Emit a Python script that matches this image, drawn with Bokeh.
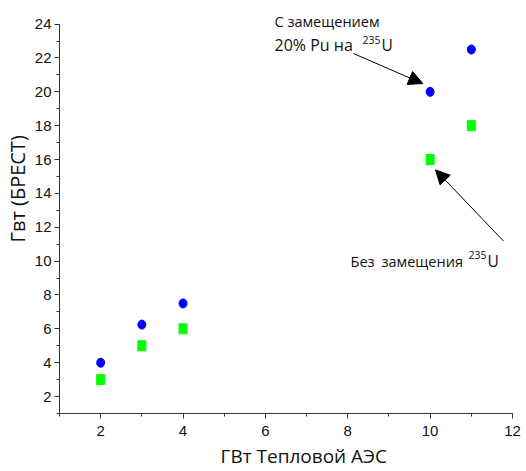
from bokeh.plotting import figure
from bokeh.models import Range1d, SingleIntervalTicker, Arrow, NormalHead, ColumnDataSource, Label, Title
from bokeh.embed import file_html
from bokeh.resources import INLINE

# Data
aes_gw = [2, 3, 4, 10, 11]
brest_with_sub = [4, 6.25, 7.5, 20, 22.5]      # blue circles: с замещением 20% Pu на 235U
brest_without_sub = [3, 5, 6, 16, 18]           # green squares: без замещения 235U

x_title = "ГВт Тепловой АЭС"
y_title = "Гвт (БРЕСТ)"

p = figure(width=526, height=471, output_backend="svg", toolbar_location=None,
           x_range=Range1d(1, 12), y_range=Range1d(1, 25.1),
           min_border_left=59, min_border_right=14, min_border_top=5, min_border_bottom=58)
p.outline_line_color = None
p.xgrid.grid_line_color = None
p.ygrid.grid_line_color = None
p.background_fill_color = "white"
p.border_fill_color = "white"

for ax in (p.xaxis[0], p.yaxis[0]):
    ax.ticker = SingleIntervalTicker(interval=2, num_minor_ticks=2)
    ax.axis_line_color = "#333333"
    ax.major_tick_line_color = "#333333"
    ax.minor_tick_line_color = "#333333"
    ax.major_tick_in = 0
    ax.minor_tick_in = 0
    ax.major_tick_out = 5
    ax.minor_tick_out = 3
    ax.major_label_text_font = "Liberation Sans"
    ax.major_label_text_font_size = "15px"
    ax.major_label_text_color = "#111111"

p.yaxis[0].bounds = (1, 24)
p.yaxis[0].major_label_standoff = 3
p.xaxis[0].major_label_standoff = 7

# Axis titles as side titles (allow an offset like the reference)
p.add_layout(Title(text=x_title, align="left", offset=161, standoff=4,
                   text_font="Open Sans", text_font_size="19px", text_font_style="normal",
                   text_color="#111111"), "below")
p.add_layout(Title(text=y_title, align="left", offset=171, standoff=1,
                   text_font="Open Sans", text_font_size="20px", text_font_style="normal",
                   text_color="#111111"), "left")

src = ColumnDataSource(dict(x=aes_gw, a=brest_with_sub, b=brest_without_sub))
p.ellipse(x="x", y="a", width=8, height=9, width_units="screen", height_units="screen",
          source=src, fill_color="#0000FF", line_color="#0000FF")
p.rect(x="x", y="b", width=8, height=10, width_units="screen", height_units="screen",
       source=src, fill_color="#00FF00", line_color="#00FF00")

tc = "#111111"

def lab(x, y, t, size="14.5px"):
    p.add_layout(Label(x=x, y=y, text=t, text_font="Open Sans", text_font_size=size,
                       text_color=tc, text_align="left", text_baseline="alphabetic"))

# Annotation 1
lab(6.221, 24.15, "С замещением")
lab(6.221, 22.74, "20% Pu на", size="16px")
lab(8.358, 23.09, "235", size="10.5px")
lab(8.819, 22.74, "U", size="15.5px")
# Annotation 2
lab(8.067, 9.98, "Без")
lab(8.819, 9.98, "замещения")
lab(10.932, 10.36, "235", size="10.5px")
lab(11.393, 9.98, "U", size="15.5px")

p.add_layout(Arrow(end=NormalHead(size=14, fill_color="black", line_color="black"),
                   x_start=8.14, y_start=22.26, x_end=9.82, y_end=20.49,
                   line_color="black", line_width=1))
p.add_layout(Arrow(end=NormalHead(size=14, fill_color="black", line_color="black"),
                   x_start=11.78, y_start=11.19, x_end=10.13, y_end=15.39,
                   line_color="black", line_width=1))

open("out.html", "w").write(file_html(p, INLINE))
